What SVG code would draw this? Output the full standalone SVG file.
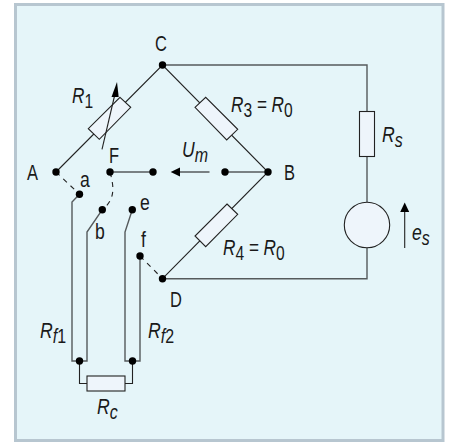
<svg xmlns="http://www.w3.org/2000/svg" width="450" height="443" viewBox="0 0 450 443">
<style>
.w{fill:none;stroke:#555a5c;stroke-width:1.4}
.d{fill:none;stroke:#222;stroke-width:1.1}
.da{fill:none;stroke:#222;stroke-width:1.1;stroke-dasharray:5 5}
.r{fill:#eef5fb;stroke:#222;stroke-width:1.1}
.p{fill:#000}
text{font-family:"Liberation Sans",Arial,sans-serif;font-size:22px;fill:#1a1a1a}
.i{font-style:italic}
.s{font-size:20px}
.n{font-style:normal}
</style>
<defs><circle id="dot" r="3.7" class="p"/></defs>
<rect x="15.500" y="4.500" width="427.500" height="436" fill="#e5f5f9" stroke="#b7c6d0" stroke-width="3"/>
<g id="connectors">
<path class="w" d="M162.500 65H367V111M367 157V202M367 248V278.700H162.500"/>
<path class="d" d="M56 172L162.500 65L268 172L162.500 278.700"/>
<path class="w" d="M110 172H153M225 172H268M180 172H209.500"/>
<path class="p" d="M170.700 172L180 167.500V176.500Z"/>
<path class="da" d="M56 172L79.500 194.300"/>
<path class="da" d="M110 172C115 190 114 200 102.300 209.700"/>
<path class="da" d="M140 256L162.500 278.700"/>
<path class="w" d="M79.500 194.300L72 202V361H87V232L102.300 209.700"/>
<path class="w" d="M132.300 209.700L125 232V361H140V256"/>
<path class="d" d="M79.500 361V383.500H87M125 383.500H132.500V361"/>
<path class="d" d="M404.700 248V212"/>
<path class="p" d="M404.700 202.500L409.200 212H400.200Z"/>
</g>
<g id="R1"><polygon class="r" points="120,97.300 130.700,107.300 99.300,139.300 88.300,128.700"/><path class="d" d="M102 149.300L114.500 96"/><path class="p" d="M117 82L118.700 97H111.500Z"/><text class="i" transform="translate(72 103) scale(.78 1)">R<tspan class="s n" dy="5">1</tspan></text></g>
<g id="R3"><polygon class="r" points="195,107.300 205.700,97.300 237.700,129.300 226.700,140"/><text class="i" transform="translate(231 112) scale(.78 1)">R<tspan class="s n" dy="5">3</tspan><tspan dy="-5"> = R</tspan><tspan class="s n" dy="5">0</tspan></text></g>
<g id="R4"><polygon class="r" points="227,204 237.700,214.300 205.700,246.700 195,236"/><text class="i" transform="translate(223 255) scale(.78 1)">R<tspan class="s n" dy="5">4</tspan><tspan dy="-5"> = R</tspan><tspan class="s n" dy="5">0</tspan></text></g>
<g id="Rs"><rect class="r" x="359.500" y="111.500" width="15" height="45"/><text class="i" transform="translate(382 142) scale(.8 1)">R<tspan class="s" dy="5">s</tspan></text></g>
<g id="es"><circle class="r" cx="367" cy="225" r="22.700"/><text class="i" transform="translate(412 240) scale(.8 1)">e<tspan class="s" dy="5">s</tspan></text></g>
<g id="Rc"><rect class="r" x="87" y="376" width="38" height="15"/><text class="i" transform="translate(97 414) scale(.8 1)">R<tspan class="s" dy="5">c</tspan></text></g>
<g id="Rf1"><text class="i" transform="translate(40 338) scale(.8 1)">R<tspan class="s" dy="5">f<tspan class="n">1</tspan></tspan></text></g>
<g id="Rf2"><text class="i" transform="translate(148 338) scale(.8 1)">R<tspan class="s" dy="5">f<tspan class="n">2</tspan></tspan></text></g>
<g id="Um"><text class="i" transform="translate(182 157) scale(.8 1)">U<tspan class="s" dy="5">m</tspan></text></g>
<g id="C"><use href="#dot" x="162.500" y="65"/><text transform="translate(155 50.700) scale(.75 1)">C</text></g>
<g id="A"><use href="#dot" x="56" y="172"/><text transform="translate(27 180) scale(.75 1)">A</text></g>
<g id="B"><use href="#dot" x="268" y="172"/><text transform="translate(284 180) scale(.75 1)">B</text></g>
<g id="D"><use href="#dot" x="162.500" y="278.700"/><text transform="translate(170 307) scale(.75 1)">D</text></g>
<g id="F"><use href="#dot" x="110" y="172"/><text transform="translate(109 163) scale(.75 1)">F</text></g>
<g id="a"><use href="#dot" x="79.500" y="194.300"/><text transform="translate(80 187) scale(.8 1)">a</text></g>
<g id="b"><use href="#dot" x="102.300" y="209.700"/><text transform="translate(95 239) scale(.8 1)">b</text></g>
<g id="e"><use href="#dot" x="132.300" y="209.700"/><text transform="translate(140 210) scale(.8 1)">e</text></g>
<g id="f"><use href="#dot" x="140" y="256"/><text transform="translate(141 247) scale(.8 1)">f</text></g>
<g id="junctions"><use href="#dot" x="153" y="172"/><use href="#dot" x="225" y="172"/><use href="#dot" x="79.500" y="361"/><use href="#dot" x="132.500" y="361"/></g>
</svg>
